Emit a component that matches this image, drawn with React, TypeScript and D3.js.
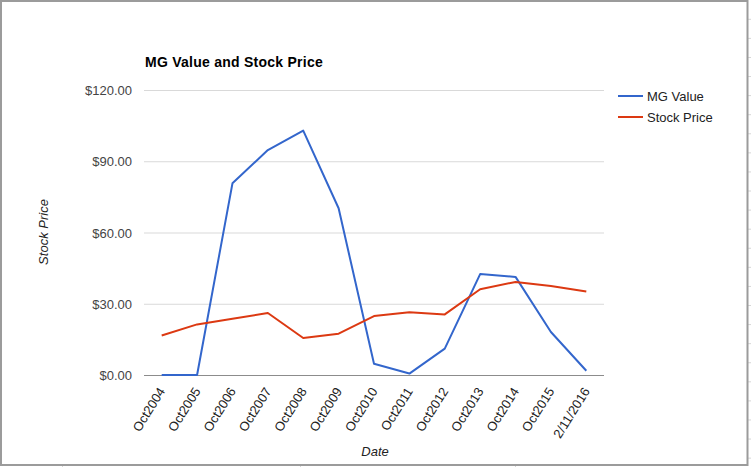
import React from "react";
import * as d3 from "d3";

const categories = ["Oct2004","Oct2005","Oct2006","Oct2007","Oct2008","Oct2009","Oct2010","Oct2011","Oct2012","Oct2013","Oct2014","Oct2015","2/11/2016"];
const mgValue = [0, 0, 80.7, 94.7, 102.9, 70.2, 4.7, 0.6, 11.1, 42.5, 41.3, 18.1, 1.8];
const stockPrice = [16.6, 21.3, 23.7, 26.1, 15.6, 17.4, 24.8, 26.4, 25.5, 36.1, 39.2, 37.5, 35.2];
const yTicks = [0, 30, 60, 90, 120];
const seriesNames = ["MG Value", "Stock Price"];
const colors = ["#3366CC", "#DC3912"];

const W = 751, H = 467;
const FONT = "Arial, 'Liberation Sans', sans-serif";

export default function App() {
  const x = d3.scaleBand<string>().domain(categories).range([144, 604]);
  const y = d3.scaleLinear().domain([0, 120]).range([375, 90]);
  const cx = (c: string) => (x(c) as number) + x.bandwidth() / 2;
  const line = d3.line<number>().x((_, i) => cx(categories[i])).y(d => y(d));
  const series = [mgValue, stockPrice];
  const fmt = d3.format("$,.2f");
  const rowTicks = d3.range(0, 24).map(i => 19.3 + i * 19.08);
  const colTicks = [62, 300, 515, 651];

  return (
    <div>
      <style>{`body{margin:0}`}</style>
      <svg width={W} height={H} style={{ display: "block", fontFamily: FONT }}>
        <rect x={0} y={0} width={W} height={H} fill="#fff" />
        {rowTicks.map((t, i) => (
          <line key={"r" + i} x1={748} x2={751} y1={t} y2={t} stroke="#d6d6d6" strokeWidth={1} />
        ))}
        {colTicks.map((t, i) => (
          <line key={"c" + i} x1={t + 0.5} x2={t + 0.5} y1={0} y2={1} stroke="#d6d6d6" strokeWidth={1} />
        ))}
        {colTicks.slice(0, 3).map((t, i) => (
          <line key={"b" + i} x1={t + 0.5} x2={t + 0.5} y1={466} y2={467} stroke="#d6d6d6" strokeWidth={1} />
        ))}
        <rect x={1} y={1} width={746.5} height={464} fill="none" stroke="#9b9b9b" strokeWidth={2} />

        <text x={145} y={67} fontSize={14} fontWeight="bold" letterSpacing={0.25} fill="#000">MG Value and Stock Price</text>

        {yTicks.map(t => (
          <line key={t} x1={144} x2={604} y1={y(t) + 0.5} y2={y(t) + 0.5}
            stroke={t === 0 ? "#8c8c8c" : "#d9d9d9"} strokeWidth={1} />
        ))}
        {yTicks.map(t => (
          <text key={"l" + t} x={132} y={y(t) + 5} textAnchor="end" fontSize={13} fill="#444">{fmt(t)}</text>
        ))}

        <text transform={`translate(48,232) rotate(-90)`} textAnchor="middle" fontSize={13} fontStyle="italic" fill="#222">Stock Price</text>

        {categories.map(c => (
          <text key={c} transform={`translate(${cx(c) + 4},391) rotate(-58)`} textAnchor="end" fontSize={13} fill="#222">{c}</text>
        ))}
        <text x={375} y={456} textAnchor="middle" fontSize={13} fontStyle="italic" fill="#222">Date</text>

        {series.map((s, i) => (
          <path key={i} d={line(s) || ""} fill="none" stroke={colors[i]} strokeWidth={2} strokeLinejoin="round" />
        ))}

        {seriesNames.map((n, i) => (
          <g key={n} transform={`translate(618,${96 + i * 21})`}>
            <line x1={0} x2={25} y1={0} y2={0} stroke={colors[i]} strokeWidth={2} />
            <text x={29} y={5} fontSize={13} fill="#222">{n}</text>
          </g>
        ))}
      </svg>
    </div>
  );
}
